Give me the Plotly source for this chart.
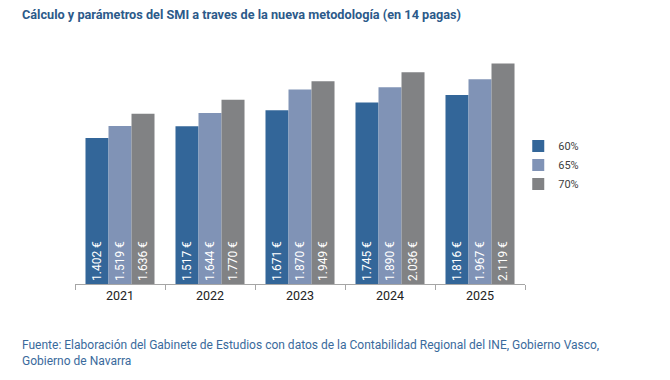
import plotly.graph_objects as go

years = ["2021", "2022", "2023", "2024", "2025"]
s60 = [1402, 1517, 1671, 1745, 1816]
s65 = [1519, 1644, 1870, 1890, 1967]
s70 = [1636, 1770, 1949, 2036, 2119]
names = ["60%", "65%", "70%"]
colors = ["#336699", "#8093B6", "#818284"]

def fmt(v):
    return f"{v:,}".replace(",", ".") + " €"

FONT = "Roboto, Arial"
fig = go.Figure()
for name, vals, col in zip(names, [s60, s65, s70], colors):
    fig.add_trace(go.Bar(
        x=years, y=vals, name=name, marker_color=col, marker_line_width=0,
        text=[fmt(v) for v in vals], textposition="inside",
        insidetextanchor="start", textangle=-90,
        textfont=dict(color="white", size=12, family=FONT),
        hoverinfo="skip",
    ))

fig.update_layout(
    width=670, height=380,
    margin=dict(l=75, r=145, t=40, b=96),
    plot_bgcolor="white", paper_bgcolor="white",
    barmode="group", bargap=0.233, bargroupgap=0,
    font=dict(family=FONT, color="#222222"),
    showlegend=True,
    legend=dict(x=0.985, y=0.625, xanchor="left", yanchor="top",
                bgcolor="rgba(0,0,0,0)",
                font=dict(size=11, color="#404040", family=FONT),
                itemwidth=30, tracegroupgap=0),
    uniformtext=dict(minsize=8, mode="show"),
)
fig.update_xaxes(showline=True, linecolor="#A6A6A6", linewidth=1,
                 ticks="outside", ticklen=5, tickcolor="#A6A6A6",
                 tickson="boundaries",
                 tickfont=dict(size=12.5, color="#222222", family=FONT))
fig.update_yaxes(range=[0, 2345], visible=False, showgrid=False)

fig.add_annotation(text="<b>Cálculo y parámetros del SMI a traves de la nueva metodología (en 14 pagas)</b>",
                   xref="paper", yref="paper", x=-0.122, y=1.0 + 26/244, xanchor="left", yanchor="middle",
                   showarrow=False, font=dict(size=12.7, color="#2C5A8A", family=FONT))
fig.add_annotation(text="Fuente: Elaboración del Gabinete de Estudios con datos de la Contabilidad Regional del INE, Gobierno Vasco,<br>Gobierno de Navarra",
                   xref="paper", yref="paper", x=-0.122, y=-52/244, xanchor="left", yanchor="top",
                   align="left", showarrow=False,
                   font=dict(size=12, color="#3A6A9C", family=FONT))

fig.write_html("out.html", config={"displayModeBar": False},
               post_script="document.body.style.margin='0';document.body.style.padding='0';")
